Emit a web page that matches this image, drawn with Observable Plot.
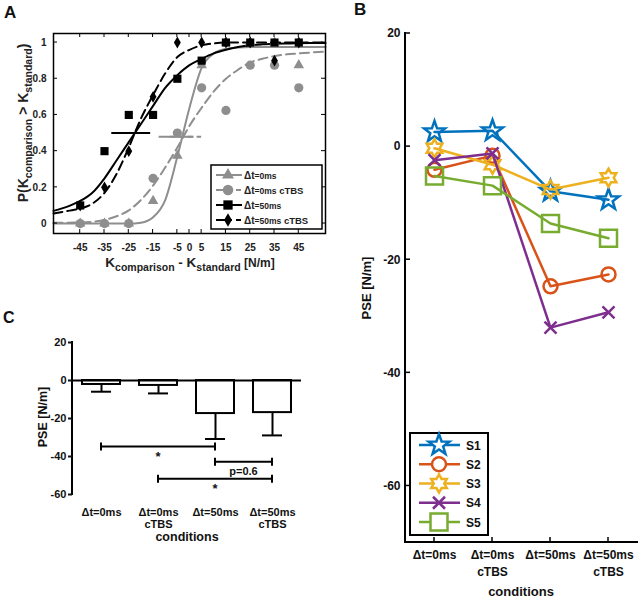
<!DOCTYPE html>
<html>
<head>
<meta charset="utf-8">
<script src="https://cdn.jsdelivr.net/npm/d3@7"></script>
<script src="https://cdn.jsdelivr.net/npm/@observablehq/plot@0.6"></script>
<style>
  body { margin: 0; background: #fff; }
  #fig { position: relative; width: 640px; height: 599px; overflow: hidden; background: #fff; }
</style>
</head>
<body>
<div id="fig"></div>
<script>
// ---------------- DATA ----------------
// Panel A: psychometric data
const kDiff = [-45, -35, -25, -15, -5, 5, 15, 25, 35, 45];
const pT0 = [0, 0, 0, 0.125, 0.375, 0.875, 1, 1, 1, 0.875];
const pT0cTBS = [0, 0, 0, 0.25, 0.5, 0.75, 0.625, 0.875, 0.875, 0.75];
const pT50 = [0.1, 0.4, 0.6, 0.6, 0.8, 0.9, 1, 1, 1, 1];
const pT50cTBS = [0.1, 0.2, 0.4, 0.7, 1, 1, 1, 1, 0.9, 1];
// fitted curves
const fitX = [-56, -50, -45, -40, -35, -30, -25, -20, -15, -10, -5, 0, 5, 10, 15, 20, 25, 30, 35, 40, 45, 50, 56];
const fitT0 = [0, 0, 0, 0, 0, 0, 0, 0.005, 0.035, 0.13, 0.37, 0.64, 0.86, 0.94, 0.965, 0.972, 0.975, 0.975, 0.975, 0.975, 0.975, 0.975, 0.975];
const fitT0cTBS = [0.004, 0.005, 0.006, 0.01, 0.02, 0.04, 0.073, 0.13, 0.21, 0.31, 0.42, 0.54, 0.64, 0.73, 0.8, 0.85, 0.89, 0.91, 0.925, 0.935, 0.94, 0.945, 0.95];
const fitT50 = [0.07, 0.095, 0.125, 0.17, 0.25, 0.35, 0.45, 0.55, 0.65, 0.75, 0.82, 0.875, 0.91, 0.94, 0.96, 0.975, 0.985, 0.99, 0.993, 0.995, 0.996, 0.997, 0.998];
const fitT50cTBS = [0.055, 0.07, 0.083, 0.11, 0.17, 0.275, 0.42, 0.58, 0.71, 0.83, 0.92, 0.96, 0.985, 0.995, 1, 1, 1, 1, 1, 1, 1, 1, 1];
// PSE interval bars
const pseBarSeries = ["Δt=50ms", "Δt=0ms", "Δt=0ms cTBS"];
const pseBarLo = [-32, -12.5, -8];
const pseBarHi = [-16, 1.5, 5];
const pseBarLevel = [0.5, 0.48, 0.48];
const xTicksA = [-45, -35, -25, -15, -5, 0, 5, 15, 25, 35, 45];
const yTicksA = [0, 0.2, 0.4, 0.6, 0.8, 1];

// Panel B: individual PSE
const conditions = ["Δt=0ms", "Δt=0ms cTBS", "Δt=50ms", "Δt=50ms cTBS"];
const condLabels = ["Δt=0ms", "Δt=0ms\ncTBS", "Δt=50ms", "Δt=50ms\ncTBS"];
const subjects = ["S1", "S2", "S3", "S4", "S5"];
const pseS1 = [2.6, 2.8, -7.9, -9.4];
const pseS2 = [-4.1, -1.6, -24.7, -22.6];
const pseS3 = [-0.3, -3.2, -7.6, -5.5];
const pseS4 = [-2.4, -1.2, -32.0, -29.3];
const pseS5 = [-5.2, -6.9, -13.6, -16.2];
const yTicksB = [20, 0, -20, -40, -60];

// Panel C: group PSE
const pseMean = [-2.1, -2.6, -17.4, -16.9];
const pseErr = [3.8, 4.2, 13.4, 12.0];
const bracketFrom = ["Δt=0ms", "Δt=50ms", "Δt=0ms cTBS"];
const bracketTo = ["Δt=50ms", "Δt=50ms cTBS", "Δt=50ms cTBS"];
const bracketLevel = [-35, -43, -52];
const bracketText = ["*", "p=0.6", "*"];
const yTicksC = [20, 0, -20, -40, -60];

// ---------------- STYLE ----------------
const FONT = '"Liberation Sans", Arial, Helvetica, sans-serif';
const GRAY = "#8e8e8e";
const seriesA = [
  {label: "Δt=0ms", p: pT0, fit: fitT0, color: GRAY, dash: null, symbol: "triangle", r: 3.9},
  {label: "Δt=0ms cTBS", p: pT0cTBS, fit: fitT0cTBS, color: GRAY, dash: "9,5", symbol: "circle", r: 4.6},
  {label: "Δt=50ms", p: pT50, fit: fitT50, color: "black", dash: null, symbol: "square", r: 4.6},
  {label: "Δt=50ms cTBS", p: pT50cTBS, fit: fitT50cTBS, color: "black", dash: "9,5", symbol: "diamond", r: 3.6}
];
const pseB = [pseS1, pseS2, pseS3, pseS4, pseS5];
const subjColors = ["#0072BD", "#D95319", "#EDB120", "#7E2F8E", "#77AC30"];

function starSym(points, innerRatio) {
  return {draw(ctx, size) {
    const R = Math.sqrt(size / Math.PI), r = R * innerRatio;
    for (let i = 0; i < points * 2; i++) {
      const a = -Math.PI / 2 + i * Math.PI / points;
      const rr = i % 2 ? r : R;
      const x = rr * Math.cos(a), y = rr * Math.sin(a);
      if (i) ctx.lineTo(x, y); else ctx.moveTo(x, y);
    }
    ctx.closePath();
  }};
}
const symCircle = {draw(ctx, size) { const R = Math.sqrt(size / Math.PI); ctx.moveTo(R, 0); ctx.arc(0, 0, R, 0, 2 * Math.PI); }};
const symSquare = {draw(ctx, size) { const s = Math.sqrt(size / Math.PI) * 0.85; ctx.rect(-s, -s, 2 * s, 2 * s); }};
const symTimes = {draw(ctx, size) { const s = Math.sqrt(size / Math.PI) * 0.75; ctx.moveTo(-s, -s); ctx.lineTo(s, s); ctx.moveTo(s, -s); ctx.lineTo(-s, s); }};
const subjSymbols = [starSym(5, 0.4), symCircle, starSym(6, 0.58), symTimes, symSquare];
const subjR = [11, 7, 9, 8, 10];

// ---------------- HELPERS ----------------
const fig = document.getElementById("fig");
function put(node, left, top) {
  node.style.position = "absolute";
  node.style.left = left + "px";
  node.style.top = top + "px";
  fig.appendChild(node);
}
// inward tick marks drawn through the plot's scales
function innerTicks(dim, values, side, len, sw = 1) {
  return (index, scales, _v, d) => {
    const g = d3.create("svg:g").attr("stroke", "black").attr("stroke-width", sw);
    const s = scales[dim];
    const off = s.bandwidth ? s.bandwidth() / 2 : 0;
    for (const v of values) {
      const p = s(v) + off;
      if (dim === "x") {
        const y0 = side === "bottom" ? d.height - d.marginBottom : d.marginTop;
        const y1 = side === "bottom" ? y0 - len : y0 + len;
        g.append("line").attr("x1", p).attr("x2", p).attr("y1", y0).attr("y2", y1);
      } else {
        const x0 = side === "left" ? d.marginLeft : d.width - d.marginRight;
        const x1 = side === "left" ? x0 + len : x0 - len;
        g.append("line").attr("x1", x0).attr("x2", x1).attr("y1", p).attr("y2", p);
      }
    }
    return g.node();
  };
}
function axisLine(side, sw = 1.5) {
  return (index, scales, _v, d) => {
    const l = d3.create("svg:line").attr("stroke", "black").attr("stroke-width", sw).attr("stroke-linecap", "square");
    if (side === "left") l.attr("x1", d.marginLeft).attr("x2", d.marginLeft).attr("y1", d.marginTop).attr("y2", d.height - d.marginBottom);
    else l.attr("x1", d.marginLeft).attr("x2", d.width - d.marginRight).attr("y1", d.height - d.marginBottom).attr("y2", d.height - d.marginBottom);
    return l.node();
  };
}
const fmt = d => String(d);

// ---------------- PANEL A ----------------
const plotA = Plot.plot({
  width: 340, height: 280,
  marginLeft: 53, marginRight: 15, marginTop: 33, marginBottom: 47,
  x: {domain: [-56, 56]},
  y: {domain: [-0.055, 1.05]},
  style: {fontFamily: FONT, fontSize: "10px", fontWeight: "bold", color: "#222", background: "transparent", overflow: "visible"},
  marks: [
    ...seriesA.map(s => Plot.line(fitX, {x: d => d, y: (d, i) => s.fit[i], stroke: s.color, strokeWidth: 2, strokeDasharray: s.dash, curve: "monotone-x"})),
    ...seriesA.map(s => Plot.ruleY(pseBarSeries.map((n, i) => i).filter(i => pseBarSeries[i] === s.label),
      {y: i => pseBarLevel[i], x1: i => pseBarLo[i], x2: i => pseBarHi[i], stroke: s.color, strokeWidth: 2, strokeDasharray: s.dash ? "6,3" : null})),
    ...seriesA.map(s => Plot.dot(kDiff, {x: d => d, y: (d, i) => s.p[i], symbol: s.symbol, fill: s.color, stroke: "none", r: s.r})),
    Plot.axisX({ticks: xTicksA, tickSize: 0, tickPadding: 10, tickFormat: fmt, label: null}),
    Plot.axisY({ticks: yTicksA, tickSize: 0, tickPadding: 7, tickFormat: fmt, label: null}),
    innerTicks("x", xTicksA, "bottom", 4), innerTicks("x", xTicksA, "top", 4),
    innerTicks("y", yTicksA, "left", 4), innerTicks("y", yTicksA, "right", 4),
    Plot.frame({stroke: "black", strokeWidth: 1.5})
  ]
});
put(plotA, 0, 0);

// ---------------- PANEL B ----------------
const plotB = Plot.plot({
  width: 300, height: 599,
  marginLeft: 65, marginRight: 3, marginTop: 33, marginBottom: 57,
  x: {type: "point", domain: conditions, padding: 0.5},
  y: {domain: [-70, 20]},
  style: {fontFamily: FONT, fontSize: "12px", fontWeight: "bold", color: "#111", background: "transparent", overflow: "visible"},
  marks: [
    axisLine("left", 2), axisLine("bottom", 2),
    innerTicks("x", conditions, "bottom", 5, 1.5), innerTicks("y", yTicksB, "left", 5, 1.5),
    Plot.axisX({tickSize: 0, tickPadding: 5, tickFormat: d => condLabels[conditions.indexOf(d)], lineHeight: 1.4, label: null}),
    Plot.axisY({ticks: yTicksB, tickSize: 0, tickPadding: 5, tickFormat: fmt, label: null}),
    ...subjects.flatMap((s, k) => [
      Plot.line(conditions, {x: d => d, y: (d, i) => pseB[k][i], stroke: subjColors[k], strokeWidth: 2.5}),
      Plot.dot(conditions, {x: d => d, y: (d, i) => pseB[k][i], stroke: subjColors[k], strokeWidth: 2.5, fill: "none", symbol: subjSymbols[k], r: subjR[k]})
    ])
  ]
});
put(plotB, 340, 0);

// ---------------- PANEL C ----------------
function brackets(index, scales) {
  const g = d3.create("svg:g");
  const x = scales.x, y = scales.y, off = x.bandwidth() / 2;
  bracketFrom.forEach((f, i) => {
    const x1 = x(f) + off, x2 = x(bracketTo[i]) + off, yy = y(bracketLevel[i]);
    g.append("line").attr("x1", x1).attr("x2", x2).attr("y1", yy).attr("y2", yy).attr("stroke", "black").attr("stroke-width", 2);
    for (const xe of [x1, x2]) g.append("line").attr("x1", xe).attr("x2", xe).attr("y1", yy - 4).attr("y2", yy + 4).attr("stroke", "black").attr("stroke-width", 2);
    const isStar = bracketText[i] === "*";
    g.append("text").attr("x", (x1 + x2) / 2).attr("y", yy + (isStar ? 14 : 13))
      .attr("text-anchor", "middle").attr("font-size", isStar ? 13 : 11).attr("font-weight", "bold").attr("fill", "#111")
      .text(bracketText[i]);
  });
  return g.node();
}
const plotC = Plot.plot({
  width: 340, height: 299,
  marginLeft: 72, marginRight: 39, marginTop: 42, marginBottom: 105,
  x: {type: "band", domain: conditions, paddingInner: 0.333, paddingOuter: 0.175},
  y: {domain: [-60, 20]},
  style: {fontFamily: FONT, fontSize: "11px", fontWeight: "bold", color: "#111", background: "transparent", overflow: "visible"},
  marks: [
    Plot.barY(conditions, {x: d => d, y: (d, i) => pseMean[i], fill: "white", stroke: "black", strokeWidth: 2}),
    Plot.ruleX(conditions, {x: d => d, y1: (d, i) => pseMean[i], y2: (d, i) => pseMean[i] - pseErr[i], stroke: "black", strokeWidth: 2}),
    Plot.tickY(conditions, {x: d => d, y: (d, i) => pseMean[i] - pseErr[i], stroke: "black", strokeWidth: 2, insetLeft: 9, insetRight: 9}),
    Plot.ruleY([0], {stroke: "black", strokeWidth: 2}),
    axisLine("left", 2),
    Plot.axisY({ticks: yTicksC, tickSize: 4, tickPadding: 2, strokeWidth: 2, tickFormat: fmt, label: null}),
    Plot.axisX({tickSize: 0, tickPadding: 13, tickFormat: d => condLabels[conditions.indexOf(d)], lineHeight: 1.1, label: null}),
    brackets
  ]
});
put(plotC, 0, 300);

// ---------------- OVERLAY: letters, axis titles, legends ----------------
const ov = d3.create("svg").attr("width", 640).attr("height", 599)
  .style("font-family", FONT).style("pointer-events", "none");
function txt(x, y, s, {size = 12, weight = "bold", anchor = "start", rotate = 0, fill = "#111"} = {}) {
  return ov.append("text")
    .attr("transform", `translate(${x},${y})` + (rotate ? ` rotate(${rotate})` : ""))
    .attr("text-anchor", anchor).attr("font-size", size).attr("font-weight", weight).attr("fill", fill).text(s);
}
txt(4, 18, "A", {size: 17});
txt(354, 15, "B", {size: 17});
txt(3, 323, "C", {size: 16});

// Panel A axis titles with subscripts
const ylA = ov.append("text").attr("transform", "translate(28,123) rotate(-90)")
  .attr("text-anchor", "middle").attr("font-size", 14).attr("font-weight", "bold").attr("fill", "#222");
ylA.append("tspan").text("P(K");
ylA.append("tspan").attr("font-size", 10.5).attr("dy", 4).text("comparison");
ylA.append("tspan").attr("dy", -4).text(" > K");
ylA.append("tspan").attr("font-size", 10.5).attr("dy", 4).text("standard");
ylA.append("tspan").attr("dy", -4).text(")");
const xlA = ov.append("text").attr("transform", "translate(190,267)")
  .attr("text-anchor", "middle").attr("font-size", 13.5).attr("font-weight", "bold").attr("fill", "#222");
xlA.append("tspan").text("K");
xlA.append("tspan").attr("font-size", 10.5).attr("dy", 4).text("comparison");
xlA.append("tspan").attr("dy", -4).text(" - K");
xlA.append("tspan").attr("font-size", 10.5).attr("dy", 4).text("standard");
xlA.append("tspan").attr("dy", -4).attr("font-size", 12).text(" [N/m]");

// Panel B / C axis titles
txt(371, 288, "PSE [N/m]", {size: 13, anchor: "middle", rotate: -90});
txt(521, 596, "conditions", {size: 13, anchor: "middle"});
txt(47, 417, "PSE [N/m]", {size: 12.5, anchor: "middle", rotate: -90});
txt(187, 541, "conditions", {size: 12.5, anchor: "middle"});

// Legend A
const legA = ov.append("g");
legA.append("rect").attr("x", 211).attr("y", 165).attr("width", 111).attr("height", 64)
  .attr("fill", "white").attr("stroke", "black").attr("stroke-width", 1.5);
const d3Sym = {triangle: d3.symbolTriangle, circle: d3.symbolCircle, square: d3.symbolSquare, diamond: d3.symbolDiamond};
seriesA.forEach((s, i) => {
  const yy = 175 + i * 15;
  legA.append("line").attr("x1", 216).attr("x2", 242).attr("y1", yy).attr("y2", yy)
    .attr("stroke", s.color).attr("stroke-width", 2).attr("stroke-dasharray", s.dash ? "16,4,5,4" : null);
  legA.append("path").attr("transform", `translate(228,${yy})`)
    .attr("d", d3.symbol(d3Sym[s.symbol], Math.PI * s.r * s.r * 1.3)()).attr("fill", s.color);
  const t = legA.append("text").attr("x", 244).attr("y", yy + 4).attr("font-weight", "bold").attr("fill", "#222").attr("font-size", 10);
  const m = s.label.match(/^(Δt)(=\d+ms)(.*)$/);
  t.append("tspan").text(m[1]);
  t.append("tspan").attr("font-size", 8.5).text(m[2]);
  t.append("tspan").attr("font-size", 9.5).text(m[3]);
});

// Legend B
const legB = ov.append("g");
legB.append("rect").attr("x", 410).attr("y", 433).attr("width", 78).attr("height", 102)
  .attr("fill", "white").attr("stroke", "black").attr("stroke-width", 2);
subjects.forEach((s, k) => {
  const yy = 445 + k * 19.25;
  legB.append("line").attr("x1", 419).attr("x2", 460).attr("y1", yy).attr("y2", yy)
    .attr("stroke", subjColors[k]).attr("stroke-width", 2.5);
  legB.append("path").attr("transform", `translate(439,${yy})`)
    .attr("d", d3.symbol(subjSymbols[k], Math.PI * subjR[k] * subjR[k])())
    .attr("fill", "white").attr("stroke", subjColors[k]).attr("stroke-width", 2.5);
  legB.append("text").attr("x", 466).attr("y", yy + 4.5).attr("font-size", 12).attr("font-weight", "bold").attr("fill", "#111").text(s);
});

put(ov.node(), 0, 0);
</script>
</body>
</html>
